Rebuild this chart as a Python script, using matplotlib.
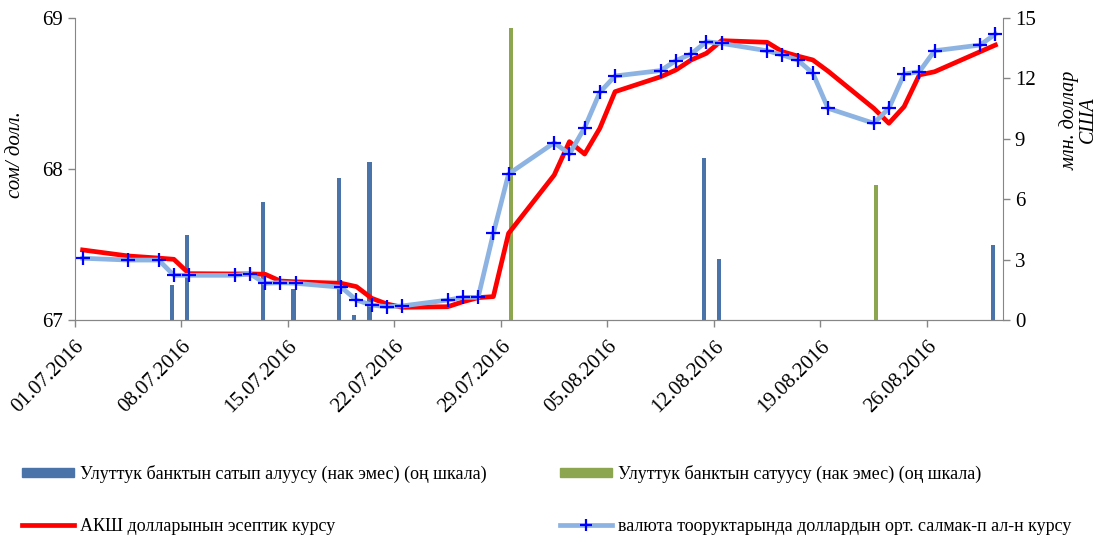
import matplotlib
matplotlib.use("Agg")
import matplotlib.pyplot as plt
import matplotlib.dates as mdates
from matplotlib.patches import Patch
from matplotlib.lines import Line2D
import pandas as pd

# trading days
dates = ["01.07.2016", "04.07.2016", "06.07.2016", "07.07.2016", "08.07.2016",
         "11.07.2016", "12.07.2016", "13.07.2016", "14.07.2016", "15.07.2016",
         "18.07.2016", "19.07.2016", "20.07.2016", "21.07.2016", "22.07.2016",
         "25.07.2016", "26.07.2016", "27.07.2016", "28.07.2016", "29.07.2016",
         "01.08.2016", "02.08.2016", "03.08.2016", "04.08.2016", "05.08.2016",
         "08.08.2016", "09.08.2016", "10.08.2016", "11.08.2016", "12.08.2016",
         "15.08.2016", "16.08.2016", "17.08.2016", "18.08.2016", "19.08.2016",
         "22.08.2016", "23.08.2016", "24.08.2016", "25.08.2016", "26.08.2016",
         "29.08.2016", "30.08.2016"]

# official USD rate (сом/долл.)
official_rate = [67.464, 67.424, 67.410, 67.402, 67.307,
                 67.305, 67.305, 67.303, 67.258, 67.253,
                 67.243, 67.221, 67.144, 67.106, 67.084,
                 67.088, 67.121, 67.148, 67.155, 67.574,
                 67.960, 68.181, 68.099, 68.270, 68.512,
                 68.611, 68.656, 68.722, 68.766, 68.850,
                 68.839, 68.777, 68.748, 68.722, 68.648,
                 68.402, 68.303, 68.413, 68.623, 68.644,
                 68.777, 68.821]

# weighted average market rate (сом/долл.)
market_rate = [67.409, 67.397, 67.397, 67.296, 67.296,
               67.296, 67.305, 67.243, 67.247, 67.243,
               67.217, 67.132, 67.099, 67.088, 67.093,
               67.132, 67.150, 67.150, 67.574, 67.967,
               68.174, 68.099, 68.274, 68.508, 68.616,
               68.652, 68.718, 68.762, 68.843, 68.832,
               68.783, 68.755, 68.722, 68.634, 68.402,
               68.303, 68.402, 68.629, 68.644, 68.783,
               68.821, 68.894]

# NBKR purchases / sales, mln USD (right scale)
buy_dates = ["07.07.2016", "08.07.2016", "13.07.2016", "15.07.2016", "18.07.2016",
             "19.07.2016", "20.07.2016", "11.08.2016", "12.08.2016", "30.08.2016"]
buy_values = [1.74, 4.21, 5.85, 1.54, 7.04, 0.25, 7.85, 8.03, 3.03, 3.73]

sell_dates = ["29.07.2016", "22.08.2016"]
sell_values = [14.49, 6.69]

x_ticks = ["01.07.2016", "08.07.2016", "15.07.2016", "22.07.2016", "29.07.2016",
           "05.08.2016", "12.08.2016", "19.08.2016", "26.08.2016"]

labels = ["Улуттук банктын сатып алуусу (нак эмес) (оң шкала)",
          "Улуттук банктын сатуусу (нак эмес) (оң шкала)",
          "АКШ долларынын эсептик курсу",
          "валюта тооруктарында доллардын орт. салмак-п ал-н курсу"]

BLUE_BAR = "#4A74A9"
GREEN_BAR = "#8BA64E"
RED = "#FF0000"
LIGHT_BLUE = "#8DB3E2"
MARKER_BLUE = "#0000FF"
AXIS_GRAY = "#868686"


def to_days(strings, shift=0.0):
    d = pd.to_datetime(strings, format="%d.%m.%Y")
    return mdates.date2num(d) + 0.5 + shift


def main():
    plt.rcParams['font.family'] = ['Liberation Serif', 'DejaVu Serif']

    fig = plt.figure(figsize=(11, 5.38), dpi=100)
    ax = fig.add_axes([75 / 1100, 1 - 320 / 538, 928 / 1100, 302 / 538])
    ax2 = ax.twinx()

    # bars on the right axis
    ax2.bar(to_days(buy_dates, -0.14), buy_values, width=0.27, color=BLUE_BAR)
    ax2.bar(to_days(sell_dates, 0.14), sell_values, width=0.27, color=GREEN_BAR)
    ax2.set_ylim(0, 15)
    ax2.set_yticks(range(0, 16, 3))

    # lines on the left axis, kept above the bars
    ax.set_zorder(ax2.get_zorder() + 1)
    ax.patch.set_visible(False)
    x = to_days(dates)
    ax.plot(x, official_rate, color=RED, lw=3.4, zorder=3)
    ax.plot(x, market_rate, color=LIGHT_BLUE, lw=3.4, zorder=4)
    ax.plot(x, market_rate, ls='none', marker='+', ms=9.5, mew=1.6,
            color=MARKER_BLUE, zorder=5)
    ax.set_ylim(67, 69)
    ax.set_yticks([67, 68, 69])

    start = mdates.date2num(pd.Timestamp("2016-07-01"))
    ax.set_xlim(start, start + 61)
    ax.set_xticks(mdates.date2num(pd.to_datetime(x_ticks, format="%d.%m.%Y")))
    ax.set_xticklabels(x_ticks, rotation=45, ha='right', va='top',
                       rotation_mode='anchor')

    for a in (ax, ax2):
        for s in a.spines.values():
            s.set_color(AXIS_GRAY)
        a.spines['top'].set_visible(False)
        a.tick_params(colors=AXIS_GRAY, labelcolor='black', labelsize=15,
                      length=5, width=1)
    ax.tick_params(axis='x', pad=7)
    ax2.spines['left'].set_visible(False)
    ax.spines['right'].set_visible(False)

    fig.text(15 / 1100, 1 - 155 / 538, "сом/ долл.", rotation=90, style='italic',
             fontsize=15, ha='center', va='center')
    fig.text(1079 / 1100, 1 - 120 / 538, "млн. доллар\nСША", rotation=90,
             style='italic', fontsize=14.5, ha='center', va='center',
             multialignment='center', linespacing=0.95)

    h_buy = Patch(color=BLUE_BAR)
    h_sell = Patch(color=GREEN_BAR)
    h_off = Line2D([], [], color=RED, lw=3.4)
    h_mkt = Line2D([], [], color=LIGHT_BLUE, lw=3.4, marker='+', ms=9,
                   mew=1.6, mec=MARKER_BLUE, markevery=[1])
    h_mkt.set_xdata([0, 0.5, 1])

    leg_kw = dict(frameon=False, fontsize=13, handlelength=2.9, handleheight=0.45,
                  handletextpad=0.3, labelspacing=1.95, borderpad=0,
                  borderaxespad=0, loc='center left')
    fig.legend([h_buy, h_off], [labels[0], labels[2]],
               bbox_to_anchor=(22 / 1100, 1 - 500 / 538), **leg_kw)
    fig.legend([h_sell, h_mkt], [labels[1], labels[3]],
               bbox_to_anchor=(560 / 1100, 1 - 500 / 538), **leg_kw)

    fig.savefig("out.png", dpi=100)


if __name__ == '__main__':
    main()
